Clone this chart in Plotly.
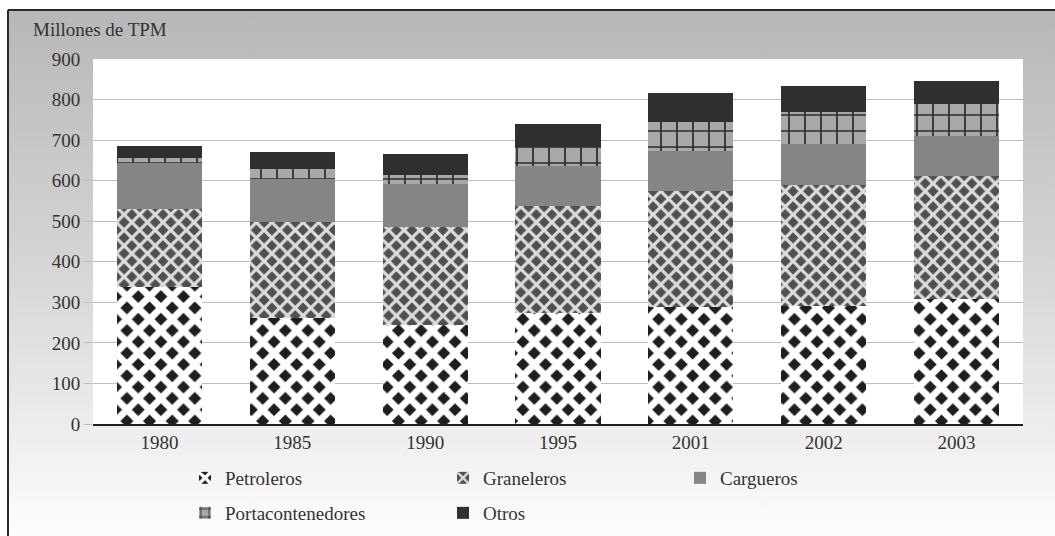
import base64
import plotly.graph_objects as go

years = ["1980", "1985", "1990", "1995", "2001", "2002", "2003"]
petroleros = [339, 262, 245, 274, 289, 291, 307]
graneleros = [190, 235, 240, 263, 285, 298, 304]
cargueros = [114, 106, 108, 99, 99, 101, 99]
portacontenedores = [12, 25, 22, 46, 71, 79, 79]
otros = [30, 42, 50, 57, 72, 64, 57]
y_ticks = [0, 100, 200, 300, 400, 500, 600, 700, 800, 900]

W, H = 1055, 536
L, R, T, B = 93, 32, 59, 112
PW, PH = W - L - R, H - T - B

def px_x(p):
    return (p - L) / PW

def px_y(p):
    return (H - B - p) / PH

FONT = "Liberation Serif, Times New Roman, serif"
FS = 19
TXT = "#333333"

fig = go.Figure()

series = [
    ("Petroleros", petroleros, dict(color="#1e1e1e", pattern=dict(shape="x", fgcolor="#ffffff", bgcolor="#1e1e1e", size=16, solidity=0.67, fgopacity=1)), "legend"),
    ("Graneleros", graneleros, dict(color="#505050", pattern=dict(shape="x", fgcolor="#dddddd", bgcolor="#505050", size=11, solidity=0.5, fgopacity=1)), "legend"),
    ("Cargueros", cargueros, dict(color="#858585"), "legend3"),
    ("Portacontenedores", portacontenedores, dict(color="#a8a8a8", pattern=dict(shape="+", fgcolor="#2a2a2a", bgcolor="#a8a8a8", size=16, solidity=0.2, fgopacity=1)), "legend2"),
    ("Otros", otros, dict(color="#2f2f2f"), "legend2"),
]
for name, vals, marker, lg in series:
    marker = dict(marker)
    marker["line"] = dict(width=0)
    fig.add_trace(go.Bar(x=years, y=vals, name=name, marker=marker, legend=lg))

svg = f'''<svg xmlns="http://www.w3.org/2000/svg" width="1047" height="526">
<defs><linearGradient id="g" x1="0" y1="0" x2="0" y2="1">
<stop offset="0" stop-color="#b7b7b7"/><stop offset="0.5" stop-color="#d6d6d6"/><stop offset="1" stop-color="#fdfdfd"/>
</linearGradient></defs><rect width="1047" height="526" fill="url(#g)"/></svg>'''
src = "data:image/svg+xml;base64," + base64.b64encode(svg.encode()).decode()

fig.add_layout_image(dict(source=src, xref="paper", yref="paper", x=px_x(8), y=px_y(10),
                          sizex=(W - 8) / PW, sizey=(H - 10) / PH, xanchor="left", yanchor="top",
                          sizing="stretch", layer="below"))

shapes = [
    dict(type="rect", xref="paper", yref="paper", x0=0, x1=1, y0=0, y1=1, fillcolor="#ffffff", line=dict(width=0), layer="below"),
    dict(type="line", xref="paper", yref="paper", x0=px_x(8), x1=px_x(8), y0=px_y(10), y1=px_y(H + 5), line=dict(color="#2a2a2a", width=2)),
    dict(type="line", xref="paper", yref="paper", x0=px_x(8), x1=px_x(W + 5), y0=px_y(10), y1=px_y(10), line=dict(color="#2a2a2a", width=2)),
]

def leg(xpx, ypx, ew):
    return dict(orientation="h", xref="container", yref="container",
                x=xpx / W, y=1 - ypx / H, xanchor="left", yanchor="top",
                entrywidth=ew, entrywidthmode="pixels", traceorder="normal",
                bgcolor="rgba(0,0,0,0)", font=dict(family=FONT, size=FS, color=TXT))

fig.update_layout(
    width=W, height=H,
    margin=dict(l=L, r=R, t=T, b=B, pad=0, autoexpand=False),
    paper_bgcolor="#ffffff",
    plot_bgcolor="#ffffff",
    barmode="stack",
    bargap=0.36,
    font=dict(family=FONT, size=FS, color=TXT),
    shapes=shapes,
    legend=leg(185, 459, 213),
    legend2=leg(185, 494, 213),
    legend3=leg(680, 459, 213),
    annotations=[dict(text="Millones de TPM", xref="paper", yref="paper", x=px_x(31), y=px_y(30),
                      xanchor="left", yanchor="middle", showarrow=False,
                      font=dict(family=FONT, size=FS, color=TXT))],
)
fig.update_xaxes(showgrid=False, showline=True, linecolor="#1e1e1e", linewidth=2,
                 ticks="", tickfont=dict(family=FONT, size=FS, color=TXT))
fig.update_yaxes(range=[0, 900], tickvals=y_ticks, showgrid=True, gridcolor="#bdbdbd", gridwidth=1,
                 ticks="outside", ticklen=8, tickcolor="#bdbdbd", zeroline=False,
                 tickfont=dict(family=FONT, size=FS, color=TXT))

fig.write_html("out.html")
